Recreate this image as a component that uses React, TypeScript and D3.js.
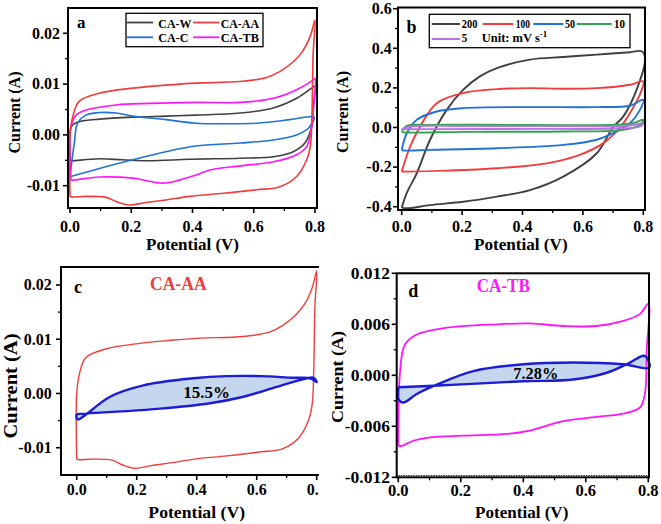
import React from "react";
import * as d3 from "d3";

// ---------------- DATA ----------------
// Panel a: CV loops of the four samples (potential V, current A)
const caW_V = [0.002, 0.0, 0.009, 0.03, 0.096, 0.205, 0.313, 0.411, 0.555, 0.664, 0.74, 0.789, 0.8, 0.795, 0.789, 0.767, 0.729, 0.664, 0.555, 0.392, 0.259, 0.172, 0.096, 0.009, 0.002];
const caW_I = [-0.0051, 0.0007, 0.002, 0.0026, 0.0031, 0.0035, 0.0037, 0.0039, 0.0043, 0.0053, 0.0072, 0.0092, 0.0096, 0.006, 0.0016, -0.0016, -0.0033, -0.0043, -0.0046, -0.0048, -0.0051, -0.0049, -0.0047, -0.0051, -0.0051];

const caAA_V = [0.0, 0.0, 0.009, 0.03, 0.096, 0.205, 0.313, 0.411, 0.555, 0.642, 0.686, 0.729, 0.76, 0.785, 0.8, 0.794, 0.79, 0.785, 0.773, 0.74, 0.686, 0.61, 0.501, 0.392, 0.313, 0.248, 0.194, 0.15, 0.118, 0.052, 0.005, 0.0];
const caAA_I = [-0.0121, 0.0, 0.0036, 0.0066, 0.0082, 0.0092, 0.0098, 0.0102, 0.0105, 0.0113, 0.0125, 0.0144, 0.0165, 0.0195, 0.0226, 0.016, 0.004, -0.002, -0.0049, -0.0082, -0.0102, -0.0108, -0.0115, -0.0121, -0.0128, -0.0133, -0.0138, -0.0131, -0.0123, -0.0121, -0.0122, -0.0121];

const caC_V = [0.0, 0.014, 0.025, 0.052, 0.096, 0.15, 0.205, 0.313, 0.411, 0.501, 0.61, 0.718, 0.794, 0.798, 0.778, 0.74, 0.664, 0.555, 0.411, 0.313, 0.205, 0.096, 0.009, 0.0];
const caC_I = [-0.0082, -0.0016, 0.0023, 0.0039, 0.0044, 0.0043, 0.0037, 0.003, 0.0023, 0.0022, 0.0023, 0.003, 0.0036, 0.0034, 0.0013, 0.0, -0.001, -0.0016, -0.0022, -0.0033, -0.0049, -0.0066, -0.0081, -0.0082];

const caTB_V = [0.003, 0.003, 0.02, 0.052, 0.15, 0.259, 0.411, 0.555, 0.664, 0.74, 0.794, 0.8, 0.795, 0.789, 0.773, 0.74, 0.664, 0.555, 0.457, 0.411, 0.357, 0.303, 0.205, 0.096, 0.01, 0.003];
const caTB_I = [-0.0089, 0.0016, 0.0039, 0.0049, 0.0059, 0.0062, 0.0064, 0.0064, 0.0072, 0.0089, 0.0108, 0.0111, 0.005, 0.0016, -0.0023, -0.0039, -0.0053, -0.0061, -0.0069, -0.0079, -0.0089, -0.0095, -0.0085, -0.0083, -0.0089, -0.0089];

// Panel b: scan rates (mV s-1)
const r200_V = [0.0, 0.017, 0.05, 0.094, 0.149, 0.204, 0.259, 0.315, 0.425, 0.535, 0.646, 0.756, 0.795, 0.806, 0.778, 0.734, 0.699, 0.646, 0.535, 0.425, 0.315, 0.204, 0.094, 0.017, 0.0];
const r200_I = [-0.405, -0.33, -0.231, -0.062, 0.089, 0.191, 0.258, 0.3, 0.343, 0.356, 0.368, 0.38, 0.385, 0.35, 0.191, 0.056, 0.0, -0.13, -0.248, -0.316, -0.349, -0.375, -0.392, -0.408, -0.405];

const r100_V = [0.0, 0.028, 0.061, 0.116, 0.204, 0.315, 0.425, 0.535, 0.646, 0.756, 0.8, 0.795, 0.756, 0.723, 0.668, 0.59, 0.48, 0.315, 0.149, 0.017, 0.0];
const r100_I = [-0.223, -0.096, 0.005, 0.123, 0.174, 0.194, 0.199, 0.196, 0.199, 0.216, 0.233, 0.191, 0.073, 0.0, -0.079, -0.138, -0.181, -0.206, -0.218, -0.223, -0.223];

const r50_V = [0.0, 0.017, 0.05, 0.116, 0.204, 0.425, 0.646, 0.756, 0.8, 0.789, 0.756, 0.712, 0.646, 0.535, 0.315, 0.094, 0.006, 0.0];
const r50_I = [-0.113, -0.029, 0.039, 0.081, 0.098, 0.103, 0.103, 0.11, 0.14, 0.089, 0.022, -0.02, -0.062, -0.088, -0.105, -0.113, -0.116, -0.113];

const r10_V = [0.0, 0.017, 0.094, 0.425, 0.756, 0.8, 0.789, 0.734, 0.535, 0.204, 0.006, 0.0];
const r10_I = [-0.02, 0.008, 0.0135, 0.013, 0.019, 0.039, 0.013, -0.012, -0.02, -0.022, -0.024, -0.02];

const r5_V = [0.0, 0.028, 0.204, 0.535, 0.756, 0.8, 0.789, 0.7, 0.425, 0.094, 0.0];
const r5_I = [-0.008, 0.005, 0.007, 0.007, 0.01, 0.022, 0.005, -0.005, -0.007, -0.008, -0.008];

// Panel c: CA-AA capacitive contribution loop
const capAA_V = [0.0, 0.278, 0.444, 0.556, 0.667, 0.767, 0.79, 0.8, 0.778, 0.722, 0.611, 0.5, 0.389, 0.222, 0.111, 0.028, 0.005, 0.0, 0.0];
const capAA_I = [-0.0038, -0.0028, -0.0018, -0.0006, 0.0012, 0.0028, 0.0029, 0.0021, 0.0028, 0.0029, 0.0032, 0.0032, 0.0028, 0.0015, -0.0006, -0.004, -0.0048, -0.0046, -0.0038];

// Panel d: CA-TB loop and capacitive contribution loop
const tbD_V = [0.0, 0.005, 0.021, 0.059, 0.155, 0.315, 0.421, 0.528, 0.635, 0.72, 0.773, 0.8, 0.795, 0.789, 0.773, 0.72, 0.635, 0.528, 0.421, 0.347, 0.208, 0.101, 0.048, 0.011, 0.0];
const tbD_I = [-0.0083, 0.0001, 0.0036, 0.0048, 0.0056, 0.006, 0.0061, 0.0058, 0.0058, 0.0064, 0.0072, 0.0084, 0.003, -0.0022, -0.0038, -0.0045, -0.0049, -0.0054, -0.0065, -0.0069, -0.0071, -0.0073, -0.0077, -0.0083, -0.0083];

const capTB_V = [0.0, 0.187, 0.4, 0.56, 0.667, 0.741, 0.784, 0.795, 0.803, 0.72, 0.56, 0.4, 0.24, 0.123, 0.059, 0.016, 0.0, 0.0];
const capTB_I = [-0.0014, -0.0011, -0.0007, -0.0005, 0.0003, 0.0015, 0.0023, 0.0021, 0.0009, 0.0013, 0.0015, 0.0013, 0.0005, -0.0011, -0.0022, -0.0032, -0.0028, -0.0014];

const baseD_V = [0.0, 0.8];
const baseD_I = [-0.0118, -0.0118];

// Ticks and labels
const xMajor = [0, 0.2, 0.4, 0.6, 0.8];
const xMinor = [0.1, 0.3, 0.5, 0.7];
const yMajorA = [-0.01, 0, 0.01, 0.02];
const yMinorA = [-0.005, 0.005, 0.015];
const yMajorB = [-0.4, -0.2, 0, 0.2, 0.4, 0.6];
const yMinorB = [-0.3, -0.1, 0.1, 0.3, 0.5];
const yMajorD = [-0.012, -0.006, 0, 0.006, 0.012];
const yMinorD = [-0.009, -0.003, 0.003, 0.009];

const legendA = ["CA-W", "CA-AA", "CA-C", "CA-TB"];
const legendB = ["200", "100", "50", "10", "5"];

// ---------------- STYLE ----------------
const FONT = "'Liberation Serif','Times New Roman',Times,serif";
const C_GRAY = "#404040";
const C_RED = "#f03c3c";
const C_BLUE = "#1f72d8";
const C_MAG = "#ff14ff";
const C_GREEN = "#33a34f";
const C_PURP = "#b772e3";
const C_DBLUE = "#1c1cd6";
const C_FILL = "#c5d7ef";

type Pt = [number, number];
const zip = (v: number[], i: number[]): Pt[] => v.map((x, k) => [x, i[k]]);

type Sc = d3.ScaleLinear<number, number>;

const T = (p: {
  x: number; y: number; size: number; anchor?: string; len?: number; rot?: number; fill?: string; children: React.ReactNode;
}) => (
  <text
    x={p.x}
    y={p.y}
    fontSize={p.size}
    fontWeight="bold"
    fontFamily={FONT}
    textAnchor={p.anchor || "middle"}
    fill={p.fill || "#000"}
    textLength={p.len}
    lengthAdjust={p.len ? "spacingAndGlyphs" : undefined}
    transform={p.rot ? `rotate(${p.rot},${p.x},${p.y})` : undefined}
  >
    {p.children}
  </text>
);

function path(xs: Sc, ys: Sc, pts: Pt[]) {
  return (
    d3
      .line<Pt>()
      .x((d) => xs(d[0]))
      .y((d) => ys(d[1]))
      .curve(d3.curveCatmullRom.alpha(0.5))(pts) || ""
  );
}

function Axes(p: {
  xs: Sc; ys: Sc; fx0: number; fx1: number; fy0: number; fy1: number;
  yMajor: number[]; yMinor: number[]; yDec: number; yLabRight: number; xLabBase: number; tickSize: number; yTickSize?: number;
}) {
  const { xs, ys, fx0, fx1, fy0, fy1 } = p;
  const yts = p.yTickSize || p.tickSize;
  return (
    <g>
      <rect x={fx0} y={fy0} width={fx1 - fx0} height={fy1 - fy0} fill="none" stroke="#000" strokeWidth={2} />
      {xMajor.map((v) => (
        <line key={"xM" + v} x1={xs(v)} x2={xs(v)} y1={fy1} y2={fy1 + 5} stroke="#000" strokeWidth={1.6} />
      ))}
      {xMinor.map((v) => (
        <line key={"xm" + v} x1={xs(v)} x2={xs(v)} y1={fy1} y2={fy1 + 3} stroke="#000" strokeWidth={1.3} />
      ))}
      {p.yMajor.map((v) => (
        <line key={"yM" + v} x1={fx0 - 5} x2={fx0} y1={ys(v)} y2={ys(v)} stroke="#000" strokeWidth={1.6} />
      ))}
      {p.yMinor.map((v) => (
        <line key={"ym" + v} x1={fx0 - 3} x2={fx0} y1={ys(v)} y2={ys(v)} stroke="#000" strokeWidth={1.3} />
      ))}
      {xMajor.map((v) => (
        <T key={"xl" + v} x={xs(v)} y={p.xLabBase} size={p.tickSize}>
          {v.toFixed(1)}
        </T>
      ))}
      {p.yMajor.map((v) => (
        <T key={"yl" + v} x={p.yLabRight} y={ys(v) + yts * 0.33} size={yts} anchor="end">
          {(Math.abs(v) < 1e-12 ? 0 : v).toFixed(p.yDec)}
        </T>
      ))}
    </g>
  );
}

export default function App() {
  // Panel a scales
  const xa = d3.scaleLinear().domain([0, 0.8]).range([70, 315]);
  const ya = d3.scaleLinear().domain([-0.01, 0.02]).range([185.7, 33.3]);
  // Panel b
  const xb = d3.scaleLinear().domain([0, 0.8]).range([401.7, 643.3]);
  const yb = d3.scaleLinear().domain([-0.4, 0.6]).range([206.7, 8.7]);
  // Panel c
  const xc = d3.scaleLinear().domain([0, 0.8]).range([76.7, 316.7]);
  const yc = d3.scaleLinear().domain([-0.01, 0.02]).range([447.7, 285]);
  // Panel d
  const xd = d3.scaleLinear().domain([0, 0.8]).range([398.3, 648.3]);
  const yd = d3.scaleLinear().domain([-0.012, 0.012]).range([477.3, 273.3]);

  const aSeries: [number[], number[], string][] = [
    [caW_V, caW_I, C_GRAY],
    [caC_V, caC_I, C_BLUE],
    [caTB_V, caTB_I, C_MAG],
    [caAA_V, caAA_I, C_RED],
  ];
  const bSeries: [number[], number[], string][] = [
    [r200_V, r200_I, C_GRAY],
    [r100_V, r100_I, C_RED],
    [r50_V, r50_I, C_BLUE],
    [r10_V, r10_I, C_GREEN],
    [r5_V, r5_I, C_PURP],
  ];
  const legAColors = [C_GRAY, C_RED, C_BLUE, C_MAG];
  const legBColors = [C_GRAY, C_RED, C_BLUE, C_GREEN, C_PURP];

  return (
    <svg width={661} height={524} style={{ position: "absolute", left: 0, top: 0, background: "#fff" }}>
      <rect x={0} y={0} width={661} height={524} fill="#fff" />
      <defs>
        <clipPath id="clipC">
          <rect x={0} y={255} width={319} height={269} />
        </clipPath>
      </defs>

      {/* ---------- Panel a ---------- */}
      <g>
        {aSeries.map(([v, i, c], k) => (
          <path key={k} d={path(xa, ya, zip(v, i))} fill="none" stroke={c} strokeWidth={1.6} />
        ))}
        <Axes xs={xa} ys={ya} fx0={68} fx1={317} fy0={8} fy1={208} yMajor={yMajorA} yMinor={yMinorA} yDec={2} yLabRight={60} xLabBase={231.5} tickSize={16} />
        <T x={192.5} y={249.5} size={17} len={93}>Potential (V)</T>
        <T x={20} y={112.5} size={16.5} len={82} rot={-90}>Current (A)</T>
        <T x={77} y={28.3} size={17} anchor="start">a</T>
        <rect x={126} y={13.3} width={137} height={33.4} fill="#fff" stroke="#000" strokeWidth={1.3} />
        {legendA.map((name, k) => {
          const col = k % 2;
          const row = Math.floor(k / 2);
          const lx = col === 0 ? 126.7 : 193;
          const ly = row === 0 ? 22.5 : 37.3;
          const tx = col === 0 ? 158.3 : 220.7;
          const ty = row === 0 ? 28.3 : 41.7;
          const lens = [33, 38.3, 30, 38.3];
          return (
            <g key={name}>
              <line x1={lx} x2={lx + 26.5} y1={ly} y2={ly} stroke={legAColors[k]} strokeWidth={1.8} />
              <T x={tx} y={ty} size={12.5} anchor="start" len={lens[k]}>{name}</T>
            </g>
          );
        })}
      </g>

      {/* ---------- Panel b ---------- */}
      <g>
        {bSeries.map(([v, i, c], k) => (
          <path key={k} d={path(xb, yb, zip(v, i))} fill="none" stroke={c} strokeWidth={1.9} />
        ))}
        <Axes xs={xb} ys={yb} fx0={398} fx1={645} fy0={7.5} fy1={210} yMajor={yMajorB} yMinor={yMinorB} yDec={1} yLabRight={391.7} xLabBase={231.5} tickSize={16} />
        <T x={520.8} y={250} size={17} len={93.7}>Potential (V)</T>
        <T x={348} y={112} size={16.5} len={82} rot={-90}>Current (A)</T>
        <T x={406.5} y={33} size={18} anchor="start">b</T>
        <rect x={429.3} y={14.3} width={200.7} height={33.4} fill="#fff" stroke="#000" strokeWidth={1.3} />
        {legendB.map((name, k) => {
          const row = k < 4 ? 0 : 1;
          const lineX = [431.7, 482.7, 533.3, 576.7, 431.7][k];
          const lineW = [28.3, 30.6, 30, 35, 28.3][k];
          const tx = [461.7, 515.7, 565, 614, 461.7][k];
          const lens = [15.7, 14.3, 10, 11, 5.5][k];
          const ly = row === 0 ? 24 : 39;
          const ty = row === 0 ? 27.7 : 42;
          return (
            <g key={name}>
              <line x1={lineX} x2={lineX + lineW} y1={ly} y2={ly} stroke={legBColors[k]} strokeWidth={2} />
              <T x={tx} y={ty} size={12.5} anchor="start" len={lens}>{name}</T>
            </g>
          );
        })}
        <text x={481.7} y={42} fontSize={12.5} fontWeight="bold" fontFamily={FONT}>
          Unit: mV s<tspan dy={-5} fontSize={9}>-1</tspan>
        </text>
      </g>

      {/* ---------- Panel c ---------- */}
      <g clipPath="url(#clipC)">
        <path d={path(xc, yc, zip(capAA_V, capAA_I))} fill={C_FILL} stroke="none" />
        <path d={path(xc, yc, zip(caAA_V, caAA_I))} fill="none" stroke={C_RED} strokeWidth={1.4} />
        <T x={206.7} y={398} size={17.5} len={46.7}>15.5%</T>
        <path d={path(xc, yc, zip(capAA_V, capAA_I))} fill="none" stroke={C_DBLUE} strokeWidth={2.4} />
        <Axes xs={xc} ys={yc} fx0={61} fx1={323} fy0={267} fy1={475} yMajor={yMajorA} yMinor={yMinorA} yDec={2} yLabRight={51.7} xLabBase={495} tickSize={16} />
        <T x={196.7} y={518} size={17.5} len={96.7}>Potential (V)</T>
        <T x={17} y={386} size={18.5} len={105} rot={-90}>Current (A)</T>
        <T x={74} y={293} size={18} anchor="start">c</T>
        <T x={178.3} y={290} size={18} len={56.7} fill={C_RED}>CA-AA</T>
      </g>

      {/* ---------- Panel d ---------- */}
      <g>
        <path d={path(xd, yd, zip(baseD_V, baseD_I))} fill="none" stroke={C_DBLUE} strokeWidth={1.2} strokeDasharray="1.5,1" />
        <path d={path(xd, yd, zip(capTB_V, capTB_I))} fill={C_FILL} stroke="none" />
        <path d={path(xd, yd, zip(tbD_V, tbD_I))} fill="none" stroke={C_MAG} strokeWidth={1.8} />
        <T x={535.8} y={379} size={17} len={45}>7.28%</T>
        <path d={path(xd, yd, zip(capTB_V, capTB_I))} fill="none" stroke={C_DBLUE} strokeWidth={2.4} />
        <Axes xs={xd} ys={yd} fx0={396.7} fx1={649} fy0={273.3} fy1={477.3} yMajor={yMajorD} yMinor={yMinorD} yDec={3} yLabRight={390} xLabBase={496} tickSize={16.5} yTickSize={17.5} />
        <T x={521.7} y={518} size={17.5} len={93.3}>Potential (V)</T>
        <T x={343} y={377} size={17.5} len={92} rot={-90}>Current (A)</T>
        <T x={408.3} y={297} size={18} anchor="start">d</T>
        <T x={503.3} y={291.7} size={18} len={53.3} fill={C_MAG}>CA-TB</T>
      </g>
    </svg>
  );
}
